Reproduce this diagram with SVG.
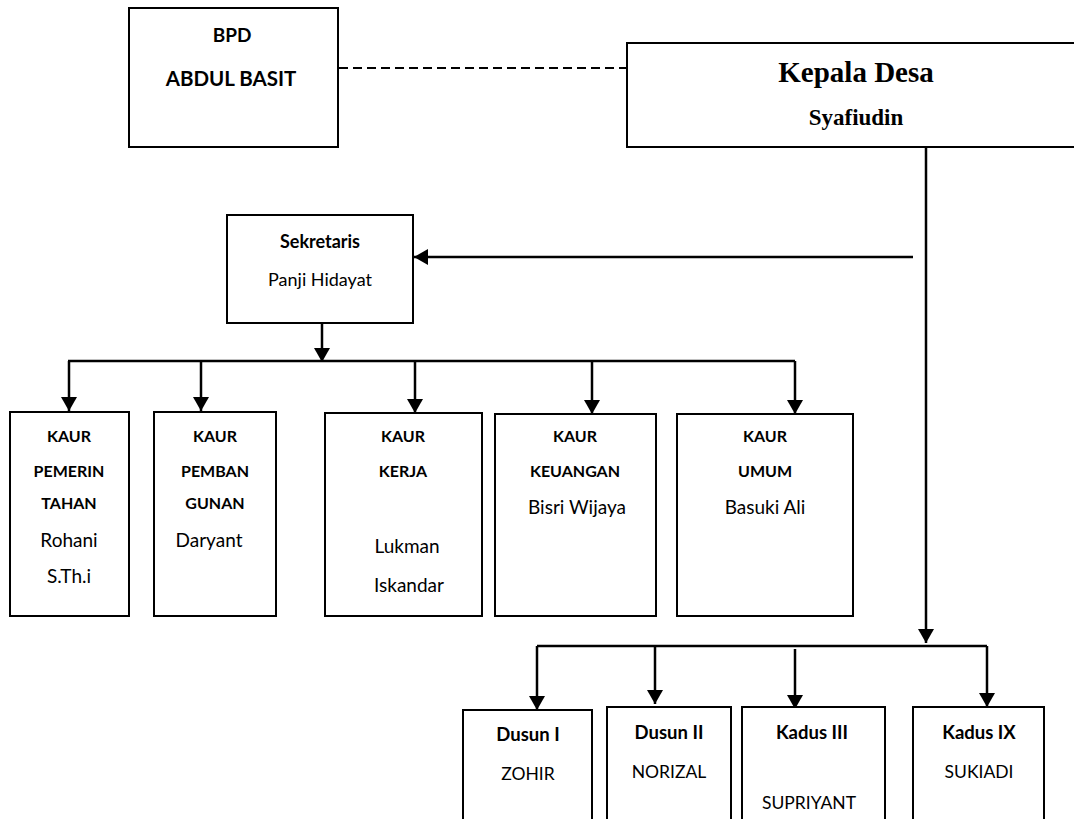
<svg xmlns="http://www.w3.org/2000/svg" width="1074" height="819" viewBox="0 0 1074 819">
<defs>
<marker id="ah" viewBox="0 0 14 16" refX="14" refY="8" markerWidth="14" markerHeight="16" markerUnits="userSpaceOnUse" orient="auto">
<path d="M0,0 L14,8 L0,16 Z" fill="#000"/>
</marker>
<style>
.box{fill:#fff;stroke:#000;stroke-width:2}
.ln{fill:none;stroke:#000;stroke-width:2.5}
.dash{fill:none;stroke:#000;stroke-width:1.8;stroke-dasharray:9 5}
text{font-family:Lato,"Open Sans",sans-serif;fill:#000;text-anchor:middle}
.b{font-weight:bold}
.h{font-size:16px;font-weight:bold}
.n{font-size:19px}
.serif{font-family:"Liberation Serif","Times New Roman",serif;font-weight:bold}
</style>
</defs>
<rect width="1074" height="819" fill="#fff"/>
<g id="connectors">
<line class="dash" x1="339" y1="68" x2="627" y2="68"/>
<line class="ln" x1="926" y1="147" x2="926" y2="643" marker-end="url(#ah)"/>
<line class="ln" x1="913" y1="257" x2="414" y2="257" marker-end="url(#ah)"/>
<line class="ln" x1="322" y1="323" x2="322" y2="362" marker-end="url(#ah)"/>
<polyline class="ln" points="68,361 795,361"/>
<line class="ln" x1="69" y1="361" x2="69" y2="411" marker-end="url(#ah)"/>
<line class="ln" x1="201" y1="361" x2="201" y2="411" marker-end="url(#ah)"/>
<line class="ln" x1="415" y1="361" x2="415" y2="413" marker-end="url(#ah)"/>
<line class="ln" x1="592" y1="361" x2="592" y2="414" marker-end="url(#ah)"/>
<line class="ln" x1="795" y1="361" x2="795" y2="414" marker-end="url(#ah)"/>
<polyline class="ln" points="537,646 987,646"/>
<line class="ln" x1="537" y1="646" x2="537" y2="710" marker-end="url(#ah)"/>
<line class="ln" x1="655" y1="646" x2="655" y2="704" marker-end="url(#ah)"/>
<line class="ln" x1="795" y1="649" x2="795" y2="709" marker-end="url(#ah)"/>
<line class="ln" x1="987" y1="646" x2="987" y2="707" marker-end="url(#ah)"/>
</g>
<g id="bpd">
<rect class="box" x="129" y="8" width="209" height="139"/>
<text class="b" x="232" y="42" font-size="19">BPD</text>
<text class="b" x="231" y="86" font-size="20.5">ABDUL BASIT</text>
</g>
<g id="kepala-desa">
<rect class="box" x="627" y="43" width="470" height="104"/>
<text class="serif" x="856" y="82" font-size="29">Kepala Desa</text>
<text class="serif" x="856" y="125" font-size="23">Syafiudin</text>
</g>
<g id="sekretaris">
<rect class="box" x="227" y="215" width="186" height="108"/>
<text class="b" x="320" y="248" font-size="18">Sekretaris</text>
<text x="320" y="286" font-size="18">Panji Hidayat</text>
</g>
<g id="kaur-pemerintahan">
<rect class="box" x="10" y="412" width="119" height="204"/>
<text class="h" x="69" y="442">KAUR</text>
<text class="h" x="69" y="477">PEMERIN</text>
<text class="h" x="69" y="509">TAHAN</text>
<text class="n" x="69" y="547">Rohani</text>
<text class="n" x="69" y="583">S.Th.i</text>
</g>
<g id="kaur-pembangunan">
<rect class="box" x="154" y="412" width="122" height="204"/>
<text class="h" x="215" y="442">KAUR</text>
<text class="h" x="215" y="477">PEMBAN</text>
<text class="h" x="215" y="509">GUNAN</text>
<text class="n" x="209" y="547">Daryant</text>
</g>
<g id="kaur-kerja">
<rect class="box" x="325" y="413" width="157" height="203"/>
<text class="h" x="403" y="442">KAUR</text>
<text class="h" x="403" y="477">KERJA</text>
<text class="n" x="407" y="553">Lukman</text>
<text class="n" x="409" y="592">Iskandar</text>
</g>
<g id="kaur-keuangan">
<rect class="box" x="495" y="414" width="161" height="202"/>
<text class="h" x="575" y="442">KAUR</text>
<text class="h" x="575" y="477">KEUANGAN</text>
<text class="n" x="577" y="514">Bisri Wijaya</text>
</g>
<g id="kaur-umum">
<rect class="box" x="677" y="414" width="176" height="202"/>
<text class="h" x="765" y="442">KAUR</text>
<text class="h" x="765" y="477">UMUM</text>
<text class="n" x="765" y="514">Basuki Ali</text>
</g>
<g id="dusun-1">
<rect class="box" x="463" y="710" width="129" height="120"/>
<text class="b" x="528" y="741" font-size="18.5">Dusun I</text>
<text x="528" y="780" font-size="17.5">ZOHIR</text>
</g>
<g id="dusun-2">
<rect class="box" x="607" y="707" width="124" height="123"/>
<text class="b" x="669" y="739" font-size="18.5">Dusun II</text>
<text x="669" y="778" font-size="17.5">NORIZAL</text>
</g>
<g id="kadus-3">
<rect class="box" x="742" y="707" width="143" height="123"/>
<text class="b" x="812" y="739" font-size="18.5">Kadus III</text>
<text x="809" y="809" font-size="17.5">SUPRIYANT</text>
</g>
<g id="kadus-9">
<rect class="box" x="913" y="707" width="131" height="123"/>
<text class="b" x="979" y="739" font-size="18.5">Kadus IX</text>
<text x="979" y="778" font-size="17.5">SUKIADI</text>
</g>
</svg>
